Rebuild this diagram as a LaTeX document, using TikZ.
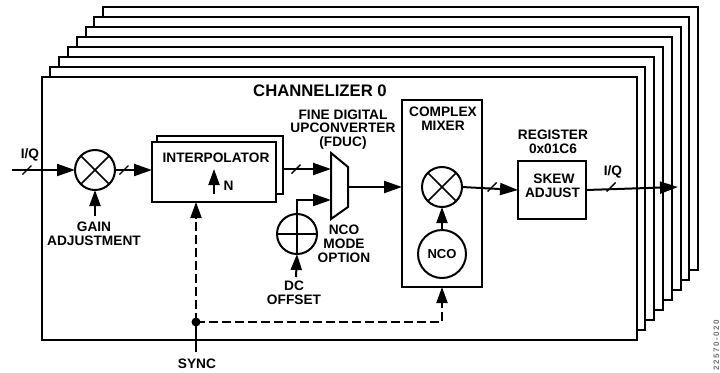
\documentclass[tikz,border=0pt]{standalone}
\usepackage{fontspec}
\setmainfont{Liberation Sans}
\usetikzlibrary{arrows.meta}
\tikzset{
  x=1bp,y=-1bp,
  wire/.style={line width=2bp},
  sig/.style={wire,-{Triangle[length=18bp,width=12bp]}},
  vsig/.style={wire,-{Triangle[length=16bp,width=11bp]}},
  dsig/.style={line width=2.6bp,dash pattern=on 9bp off 4bp},
  layer/.style={draw,line width=2bp,fill=white,inner sep=0pt,outer sep=0pt,anchor=north west,minimum width=595bp,minimum height=263bp},
  block/.style={draw,line width=2bp,fill=white,inner sep=0pt,outer sep=0pt},
  ring/.style={draw,circle,line width=2bp,fill=white,inner sep=0pt,outer sep=0pt,minimum size=40bp},
  lab/.style={font=\fontsize{13.7bp}{13.8bp}\selectfont\bfseries,align=center,inner sep=0pt},
}
\newcommand{\slashmark}[2]{\draw[line width=1.4bp] (#1-4.5,#2+4.5) -- (#1+4.5,#2-4.5);}
\begin{document}
\begin{tikzpicture}
\useasboundingbox (0,0) rectangle (720,372);
% stacked channelizers, back to front
\node[layer] (l7) at (103,7) {};
\node[layer] (l6) at (94,17) {};
\node[layer] (l5) at (86,27) {};
\node[layer] (l4) at (77,37) {};
\node[layer] (l3) at (68,47) {};
\node[layer] (l2) at (59,57) {};
\node[layer] (l1) at (50,67) {};
\node[layer] (l0) at (42,77) {};
\node[lab,font=\fontsize{16.7bp}{17bp}\selectfont\bfseries] (title) at (320,91) {CHANNELIZER 0};
% blocks
\node[ring] (gain) at (95,170) {};
\node[block,minimum width=126bp,minimum height=58bp,anchor=north west] (interpb) at (157,136) {};
\node[block,minimum width=124bp,minimum height=60bp,anchor=north west] (interp) at (152,142) {};
\node[lab] (interpt) at (216,158) {INTERPOLATOR};
\node[lab,anchor=west] (nn) at (223.5,186) {N};
\coordinate (nbase) at (214,194);
\coordinate (ntip) at (214,169);
\node[ring] (dc) at (297,234) {};
\node[block,minimum width=80bp,minimum height=187bp,anchor=north west] (cm) at (402,100) {};
\node[ring] (cmix) at (442,187) {};
\node[ring,minimum size=48bp] (nco) at (442,254) {};
\node[lab,font=\fontsize{13bp}{14bp}\selectfont\bfseries] at (nco) {NCO};
\node[block,minimum width=68bp,minimum height=58bp,anchor=north west] (skew) at (518,161) {};
% mux
\coordinate (mtl) at (331,153);
\coordinate (mtr) at (348,167);
\coordinate (mbr) at (348,207);
\coordinate (mbl) at (331,219);
\draw[line width=2bp,line join=miter] (mtl) -- (mtr) -- (mbr) -- (mbl) -- cycle;
% crosses
\draw[line width=1.6bp] (gain.45) -- (gain.225) (gain.135) -- (gain.315);
\draw[line width=1.6bp] (cmix.45) -- (cmix.225) (cmix.135) -- (cmix.315);
\draw[line width=1.6bp] (dc.north) -- (dc.south) (dc.west) -- (dc.east);
% labels
\node[lab] (iql) at (30,155) {I/Q};
\node[lab] (gl) at (94,234) {GAIN\\ADJUSTMENT};
\node[lab] (fl) at (343,129.5) {FINE DIGITAL\\UPCONVERTER\\(FDUC)};
\node[lab] (ml) at (344,243.5) {NCO\\MODE\\OPTION};
\node[lab] (dl) at (294,293) {DC\\OFFSET};
\node[lab] (cl) at (443,118.5) {COMPLEX\\MIXER};
\node[lab] (rl) at (553,142) {REGISTER\\0x01C6};
\node[lab] (sl) at (552.5,185.5) {\hspace*{3bp}SKEW\\ADJUST};
\node[lab] (iqr) at (613,172) {I/Q};
\node[lab] (syncl) at (197,364) {SYNC};
\node[font=\fontsize{8bp}{8bp}\selectfont\bfseries\addfontfeature{LetterSpace=20},text=black!55,rotate=90,inner sep=0pt,anchor=south west] (fig) at (719.5,371) {22570-020};
% free ends
\coordinate (in) at (12,170);
\coordinate (gainb) at (95,216);
\coordinate (dcb) at (296,277);
\coordinate (m1) at (331,169);
\coordinate (m2) at (331,200);
\coordinate (mo) at (348,187);
\coordinate (cml) at (402,187);
\coordinate (outend) at (678,187);
\coordinate (syncb) at (196,352);
\coordinate (dot) at (196,322);
\coordinate (corner) at (442,322);
% signal connectors
\draw[sig] (in) -- (gain.west);
\draw[vsig] (gainb) -- (gain.south);
\draw[sig] (gain.east) -- (interp.west |- gain.east);
\draw[vsig] (nbase) -- (ntip);
\draw[sig] (interpb.east |- m1) -- (m1);
\draw[sig] (dc.north) |- (m2);
\draw[vsig] (dcb) -- (dc.south);
\draw[sig] (mo) -- (cml);
\draw[vsig] (nco.north) -- (cmix.south);
\draw[sig] (cmix.east) -- (skew.west);
\draw[sig] (skew.east) -- (outend);
% sync
\draw[dsig] (dot) -- (196,218);
\draw[vsig] (196,218) -- (interp.south -| 196,0);
\draw[dsig] (dot) -- (corner) -- (442,303);
\draw[vsig] (442,303) -- (cm.south -| 442,0);
\draw[wire] (dot) -- (syncb);
\fill (dot) circle (4.5bp);
% bus slashes
\slashmark{27}{170}
\slashmark{124}{170}
\slashmark{296}{169}
\slashmark{492}{187}
\slashmark{611}{187}
\end{tikzpicture}
\end{document}
